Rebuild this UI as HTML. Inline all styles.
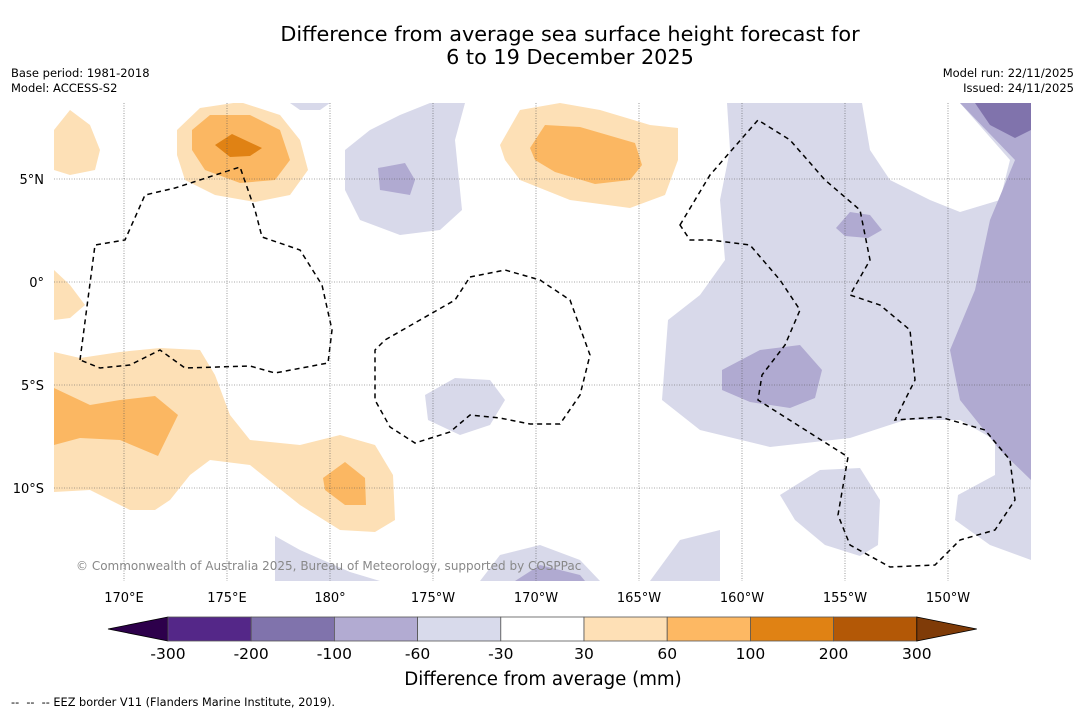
<!DOCTYPE html>
<html><head><meta charset="utf-8"><style>
body{margin:0;background:#fff;font-family:"DejaVu Sans","Liberation Sans",sans-serif;}
svg text{font-family:"DejaVu Sans","Liberation Sans",sans-serif;}
</style></head><body>
<svg id="chart" width="1085" height="713" viewBox="0 0 1085 713" xmlns="http://www.w3.org/2000/svg">
<rect width="1085" height="713" fill="#fff"/>
<text x="570" y="41" font-size="20.8" text-anchor="middle">Difference from average sea surface height forecast for</text>
<text x="570" y="64" font-size="20.8" text-anchor="middle">6 to 19 December 2025</text>
<text x="11" y="77" font-size="11.5">Base period: 1981-2018</text>
<text x="11" y="92" font-size="11.5">Model: ACCESS-S2</text>
<text x="1074" y="77" font-size="11.5" text-anchor="end">Model run: 22/11/2025</text>
<text x="1074" y="92" font-size="11.5" text-anchor="end">Issued: 24/11/2025</text>
<g>
<clipPath id="mc"><rect x="54" y="103" width="977" height="478"/></clipPath>
<g clip-path="url(#mc)">
<g fill="#d8d9ea">
<path d="M727,103 L1031,103 L1031,560 L990,545 L955,520 L958,495 L995,475 L995,440 L960,420 L905,420 L850,438 L770,447 L700,430 L662,400 L668,320 L700,295 L725,260 L720,200 L730,150 Z"/>
<path d="M780,495 L820,470 L860,468 L880,500 L878,545 L860,556 L825,545 L795,520 Z"/>
<path d="M290,103 L330,103 L320,110 L300,110Z"/>
<path d="M345,150 L370,130 L400,115 L430,103 L465,103 L455,140 L462,210 L440,230 L400,235 L360,220 L345,190Z"/>
<path d="M425,395 L455,378 L490,380 L505,400 L490,425 L460,435 L428,420Z"/>
<path d="M275,536 L300,550 L350,572 L380,581 L275,581Z"/>
<path d="M480,581 L500,555 L540,545 L580,560 L600,581Z"/>
<path d="M650,581 L680,540 L720,530 L720,581Z"/>
</g>
<path fill="#fff" d="M862,103 L960,103 L1010,160 L1000,200 L960,212 L930,200 L890,180 L870,150 Z"/>
<g fill="#b0aad1">
<path d="M960,103 L1031,103 L1031,480 L1000,450 L960,400 L950,350 L975,290 L990,220 L1015,160 Z"/>
<path d="M722,370 L760,350 L800,345 L822,370 L815,398 L790,408 L750,402 L722,390 Z"/>
<path d="M836,228 L850,212 L870,215 L882,230 L868,238 L845,236 Z"/>
<path d="M378,168 L405,163 L415,180 L410,195 L380,190Z"/>
<path d="M515,581 L540,565 L580,575 L585,581Z"/>
</g>
<path fill="#8073ac" d="M975,103 L1031,103 L1031,130 L1015,138 L990,125 Z"/>
<g fill="#fde0b6">
<path d="M177,130 L200,108 L240,102 L280,115 L300,140 L308,170 L290,195 L255,202 L215,195 L185,180 L177,155Z"/>
<path d="M500,145 L520,110 L560,103 L600,110 L650,125 L678,128 L678,160 L665,195 L630,208 L570,200 L520,180 L505,160Z"/>
<path d="M54,130 L70,110 L90,125 L100,150 L95,170 L70,175 L54,170Z"/>
<path d="M54,270 L70,285 L85,305 L70,318 L54,320Z"/>
<path d="M54,352 L80,358 L120,352 L160,348 L200,350 L215,375 L230,415 L250,440 L300,445 L340,435 L375,445 L393,475 L395,520 L375,532 L340,530 L300,505 L250,465 L210,460 L190,475 L170,500 L155,510 L130,510 L90,490 L54,492Z"/>
</g>
<g fill="#fbb762">
<path d="M192,130 L210,115 L250,115 L280,130 L290,160 L275,180 L240,183 L205,170 L192,150Z"/>
<path d="M530,148 L545,125 L580,127 L635,143 L642,165 L630,180 L595,184 L555,172 L535,160Z"/>
<path d="M54,388 L90,405 L120,400 L155,396 L178,415 L158,456 L120,440 L80,438 L54,445Z"/>
<path d="M323,478 L345,462 L365,478 L366,505 L345,505 L325,490Z"/>
</g>
<path fill="#e08214" d="M215,145 L232,134 L262,148 L250,156 L230,157 Z"/>
<g fill="none" stroke="#000" stroke-width="1.5" stroke-dasharray="5,4">
<path d="M80,360 L95,245 L125,240 L145,195 L175,188 L240,167 L255,210 L262,237 L300,250 L322,285 L332,330 L328,363 L275,373 L250,366 L185,368 L160,350 L130,365 L100,368 Z"/>
<path d="M470,277 L505,270 L540,280 L570,300 L590,355 L580,395 L560,424 L530,424 L500,418 L470,415 L450,432 L415,443 L390,427 L375,400 L375,350 L385,340 L420,320 L455,300 Z"/>
<path d="M680,225 L710,175 L758,120 L790,140 L825,180 L860,210 L870,260 L850,295 L880,305 L910,330 L915,380 L895,420 L940,417 L985,430 L1010,460 L1015,500 L995,530 L960,540 L935,565 L890,567 L850,545 L838,515 L848,457 L758,400 L762,375 L785,345 L800,310 L780,280 L750,245 L710,240 L690,240 Z"/>
</g>
<g id="grid" stroke="#555" stroke-width="0.6" stroke-dasharray="1,1.5"></g>
</g>
<text x="76" y="570" font-size="12" fill="#888">© Commonwealth of Australia 2025, Bureau of Meteorology, supported by COSPPac</text>
<g id="axes" font-size="13"></g>
</g>
<g id="cbar"></g>
<text x="543" y="685" font-size="18.2" text-anchor="middle">Difference from average (mm)</text>
<text x="11" y="706" font-size="11.3">--&#160; --&#160; -- EEZ border V11 (Flanders Marine Institute, 2019).</text>
</svg>
<script>
const lonLabels=["170°E","175°E","180°","175°W","170°W","165°W","160°W","155°W","150°W"];
const lonValues=[170,175,180,185,190,195,200,205,210];
const latLabels=["5°N","0°","5°S","10°S"];
const latValues=[5,0,-5,-10];
const cbarBounds=[-300,-200,-100,-60,-30,30,60,100,200,300];
const cbarColors=["#542788","#8073ac","#b2abd2","#d8daeb","#ffffff","#fee0b6","#fdb863","#e08214","#b35806"];
const ns="http://www.w3.org/2000/svg";
const xLon=v=>124+(v-170)*20.6, yLat=v=>282-v*20.6;
const g=document.getElementById('grid'),ax=document.getElementById('axes');
function mk(t,a,p){const e=document.createElementNS(ns,t);for(const k in a)e.setAttribute(k,a[k]);p.appendChild(e);return e;}
lonValues.forEach((v,i)=>{const x=xLon(v);
const l=mk('line',{x1:x,x2:x,y1:103,y2:581},g);


const t=mk('text',{x:x,y:602,'text-anchor':'middle'},ax);t.textContent=lonLabels[i];

});
latValues.forEach((v,i)=>{const y=yLat(v);
const l=mk('line',{x1:54,x2:1031,y1:y,y2:y},g);


const t=mk('text',{x:44,y:y+5,'text-anchor':'end'},ax);t.textContent=latLabels[i];

});
const cb=document.getElementById('cbar');const w=83.2,x0=168,y0=617,h=24;
mk('path',{d:`M${x0},${y0} L108,${y0+h/2} L${x0},${y0+h} Z`,fill:'#2d004b',stroke:'#000','stroke-width':0.8},cb);
cbarColors.forEach((c,i)=>{const r=mk('rect',{x:x0+i*w,y:y0,width:w,height:h,fill:c,stroke:'#555','stroke-width':0.8},cb);

});
const xe=x0+cbarColors.length*w;
mk('path',{d:`M${xe},${y0} L${xe+60},${y0+h/2} L${xe},${y0+h} Z`,fill:'#7f3b08',stroke:'#000','stroke-width':0.8},cb);
cbarBounds.forEach((b,i)=>{const t=mk('text',{x:x0+i*w,y:659,'font-size':15.5,'text-anchor':'middle'},cb);t.textContent=b;

});
</script>
</body></html>
